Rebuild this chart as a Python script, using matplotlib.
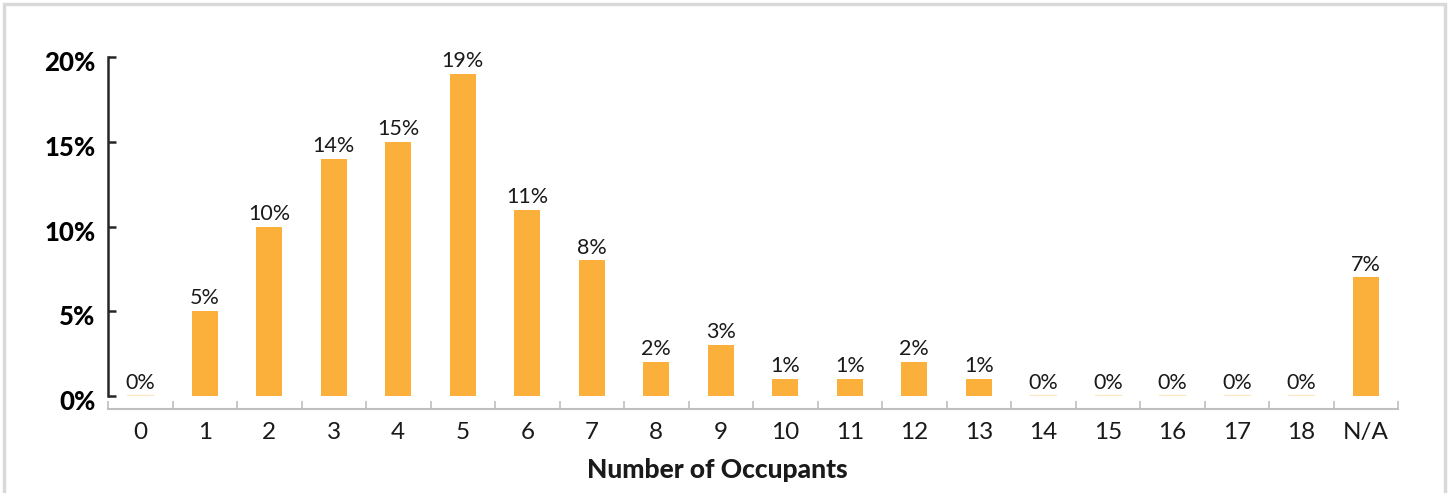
import matplotlib
matplotlib.use("Agg")
import matplotlib.pyplot as plt
import matplotlib.transforms as mtransforms
from matplotlib.patches import Rectangle

plt.rcParams['font.family'] = ['Lato', 'DejaVu Sans']

categories = ["0", "1", "2", "3", "4", "5", "6", "7", "8", "9",
              "10", "11", "12", "13", "14", "15", "16", "17", "18", "N/A"]
shares = [0, 5, 10, 14, 15, 19, 11, 8, 2, 3, 1, 1, 2, 1, 0, 0, 0, 0, 0, 7]
yticks = [0, 5, 10, 15, 20]

bar_color = "#FBB03B"

fig = plt.figure(figsize=(14.49, 4.93), dpi=100)
ax = fig.add_axes([108/1449, 1-396/493, 1290/1449, 339/493])

x = range(len(categories))
bars = ax.bar(x, shares, width=0.4, color=bar_color, zorder=2)
# faint line for the empty categories
for i, v in enumerate(shares):
    if v == 0:
        ax.plot([i-0.2, i+0.2], [0.03, 0.03], color=bar_color, alpha=0.3, lw=1)

for i, v in enumerate(shares):
    ax.annotate(f"{v}%", (i, v), xytext=(0, 2), textcoords="offset points",
                ha="center", va="bottom", fontsize=15.5, color="#1a1a1a")

ax.set_xlim(-0.5, len(categories) - 0.5)
ax.set_ylim(0, 20)

ax.spines['top'].set_visible(False)
ax.spines['right'].set_visible(False)
ax.spines['left'].set_color("#262626")
ax.spines['left'].set_linewidth(1.8)
ax.spines['bottom'].set_color("#BFBFBF")
ax.spines['bottom'].set_linewidth(1.5)
ax.spines['bottom'].set_position(('outward', 9))

ax.set_yticks(yticks)
ax.set_yticklabels([f"{t}%" for t in yticks], fontsize=18.5, fontweight="black")
ax.tick_params(axis="y", direction="in", length=6, width=1.8, color="#262626", pad=9)
shift = mtransforms.ScaledTranslation(0, -3/72, fig.dpi_scale_trans)
for lbl in ax.get_yticklabels():
    lbl.set_transform(lbl.get_transform() + shift)

ax.set_xticks([i - 0.5 for i in range(len(categories) + 1)])
ax.set_xticklabels([])
ax.set_xticks(list(x), minor=True)
ax.set_xticklabels(categories, minor=True, fontsize=17.5, color="#1a1a1a")
ax.tick_params(axis="x", which="major", direction="in", length=6, width=1.2, color="#BFBFBF")
ax.tick_params(axis="x", which="minor", length=0, pad=10)

fig.text(717/1449, 1-470/493, "Number of Occupants", ha="center", va="center",
         fontsize=19, fontweight="black", color="#1a1a1a")

fig.patches.append(Rectangle((4/1449, -0.05), 1441/1449, 1.05 - 4/493,
                             transform=fig.transFigure, fill=False,
                             edgecolor="#D9D9D9", linewidth=2.5))

fig.savefig("out.png", dpi=100)
